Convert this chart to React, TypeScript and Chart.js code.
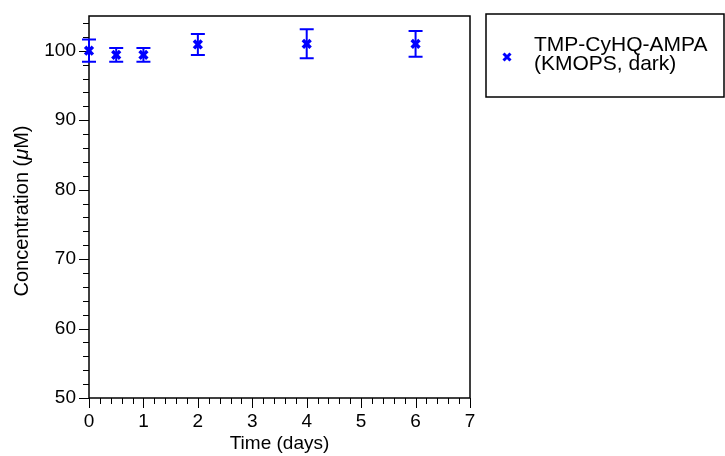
import React, { useEffect, useRef } from "react";
import { Chart, registerables } from "chart.js";

Chart.register(...registerables);

// ---- data ----
const timeDays = [0, 0.5, 1, 2, 4, 6];
const concentration = [100.0, 99.4, 99.4, 100.9, 101.0, 101.0];
const concError = [1.6, 1.0, 1.0, 1.5, 2.1, 1.85];
const seriesLabel = ["TMP-CyHQ-AMPA", "(KMOPS, dark)"];
const xTitle = "Time (days)";
const yTitleParts = [
  { t: "Concentration (", italic: false },
  { t: "\u03bc", italic: true },
  { t: "M)", italic: false },
];

const FONT = "'Liberation Sans', Arial, Helvetica, sans-serif";
const BLUE = "#0000ff";
const FS = 19;

const errorBarPlugin = {
  id: "errorBars",
  afterDatasetsDraw(chart: any) {
    const ctx = chart.ctx;
    const xs = chart.scales.x;
    const ys = chart.scales.y;
    ctx.save();
    ctx.strokeStyle = BLUE;
    ctx.lineWidth = 2;
    timeDays.forEach((t, i) => {
      const px = xs.getPixelForValue(t);
      const top = ys.getPixelForValue(concentration[i] + concError[i]);
      const bot = ys.getPixelForValue(concentration[i] - concError[i]);
      const cap = 7;
      ctx.beginPath();
      ctx.moveTo(px, top);
      ctx.lineTo(px, bot);
      ctx.moveTo(px - cap, top);
      ctx.lineTo(px + cap, top);
      ctx.moveTo(px - cap, bot);
      ctx.lineTo(px + cap, bot);
      ctx.stroke();
    });
    ctx.restore();
  },
};

const framePlugin = {
  id: "frameTicks",
  beforeDatasetsDraw(chart: any) {
    const ctx = chart.ctx;
    const a = chart.chartArea;
    const xs = chart.scales.x;
    const ys = chart.scales.y;
    ctx.save();
    ctx.strokeStyle = "#000";
    ctx.lineWidth = 1.5;
    ctx.strokeRect(a.left, a.top, a.right - a.left, a.bottom - a.top);
    ctx.lineWidth = 1;
    ctx.beginPath();
    for (let k = 0; k <= 35; k++) {
      const v = k * 0.2;
      const px = Math.round(xs.getPixelForValue(v)) + 0.5;
      const len = k % 5 === 0 ? 10 : 6;
      ctx.moveTo(px, a.bottom);
      ctx.lineTo(px, a.bottom + len);
    }
    for (let v = 50; v <= 104; v += 2) {
      const py = Math.round(ys.getPixelForValue(v)) + 0.5;
      const len = v % 10 === 0 ? 10 : 6;
      ctx.moveTo(a.left, py);
      ctx.lineTo(a.left - len, py);
    }
    ctx.stroke();

    ctx.fillStyle = "#000";
    ctx.font = `${FS}px ${FONT}`;
    ctx.textAlign = "center";
    ctx.textBaseline = "middle";
    ctx.fillText(xTitle, (a.left + a.right) / 2, 444);

    ctx.translate(22, (a.top + a.bottom) / 2 + 4);
    ctx.rotate(-Math.PI / 2);
    const fonts = yTitleParts.map((p) => `${p.italic ? "italic " : ""}20px ${FONT}`);
    let total = 0;
    const widths = yTitleParts.map((p, i) => {
      ctx.font = fonts[i];
      const w = ctx.measureText(p.t).width;
      total += w;
      return w;
    });
    let x = -total / 2;
    ctx.textAlign = "left";
    yTitleParts.forEach((p, i) => {
      ctx.font = fonts[i];
      ctx.fillText(p.t, x, 0);
      x += widths[i];
    });
    ctx.restore();

    // legend
    ctx.save();
    ctx.strokeStyle = "#000";
    ctx.lineWidth = 1.5;
    ctx.strokeRect(486, 14, 238, 83);
    ctx.fillStyle = "#000";
    ctx.font = `21px ${FONT}`;
    ctx.textAlign = "left";
    ctx.textBaseline = "middle";
    ctx.fillText(seriesLabel[0], 534, 45);
    ctx.fillText(seriesLabel[1], 534, 64);
    ctx.strokeStyle = BLUE;
    ctx.lineWidth = 3;
    const mx = 507, my = 57, r = 3.5;
    ctx.beginPath();
    ctx.moveTo(mx - r, my - r);
    ctx.lineTo(mx + r, my + r);
    ctx.moveTo(mx + r, my - r);
    ctx.lineTo(mx - r, my + r);
    ctx.stroke();
    ctx.restore();
  },
};

export default function App() {
  const ref = useRef<HTMLCanvasElement | null>(null);
  useEffect(() => {
    document.body.style.margin = "0";
    const canvas = ref.current!;
    const chart = new Chart(canvas, {
      type: "scatter",
      data: {
        datasets: [
          {
            label: seriesLabel.join(" "),
            data: timeDays.map((t, i) => ({ x: t, y: concentration[i] })),
            pointStyle: "crossRot",
            pointRadius: 5.5,
            pointBorderWidth: 3.5,
            borderColor: BLUE,
            backgroundColor: BLUE,
            showLine: false,
            clip: false,
          },
        ],
      },
      options: {
        responsive: false,
        animation: false,
        layout: { padding: { top: 16, right: 255, left: 0, bottom: 0 } },
        plugins: { legend: { display: false }, tooltip: { enabled: false } },
        scales: {
          x: {
            type: "linear",
            min: 0,
            max: 7,
            grid: { display: false, drawTicks: false },
            border: { display: false },
            ticks: {
              stepSize: 1,
              padding: 12,
              color: "#000",
              font: { family: FONT, size: FS },
              maxRotation: 0,
            },
            afterFit(s: any) {
              s.height = 58;
              s.paddingLeft = 0;
              s.paddingRight = 0;
            },
          },
          y: {
            type: "linear",
            min: 50,
            max: 105,
            grid: { display: false, drawTicks: false },
            border: { display: false },
            ticks: {
              stepSize: 10,
              includeBounds: false,
              padding: 13,
              color: "#000",
              font: { family: FONT, size: FS },
            },
            afterFit(s: any) {
              s.width = 89;
              s.paddingTop = 0;
              s.paddingBottom = 0;
            },
          },
        },
      },
      plugins: [errorBarPlugin, framePlugin],
    } as any);
    return () => chart.destroy();
  }, []);
  return <canvas ref={ref} width={725} height={456} style={{ display: "block" }} />;
}
